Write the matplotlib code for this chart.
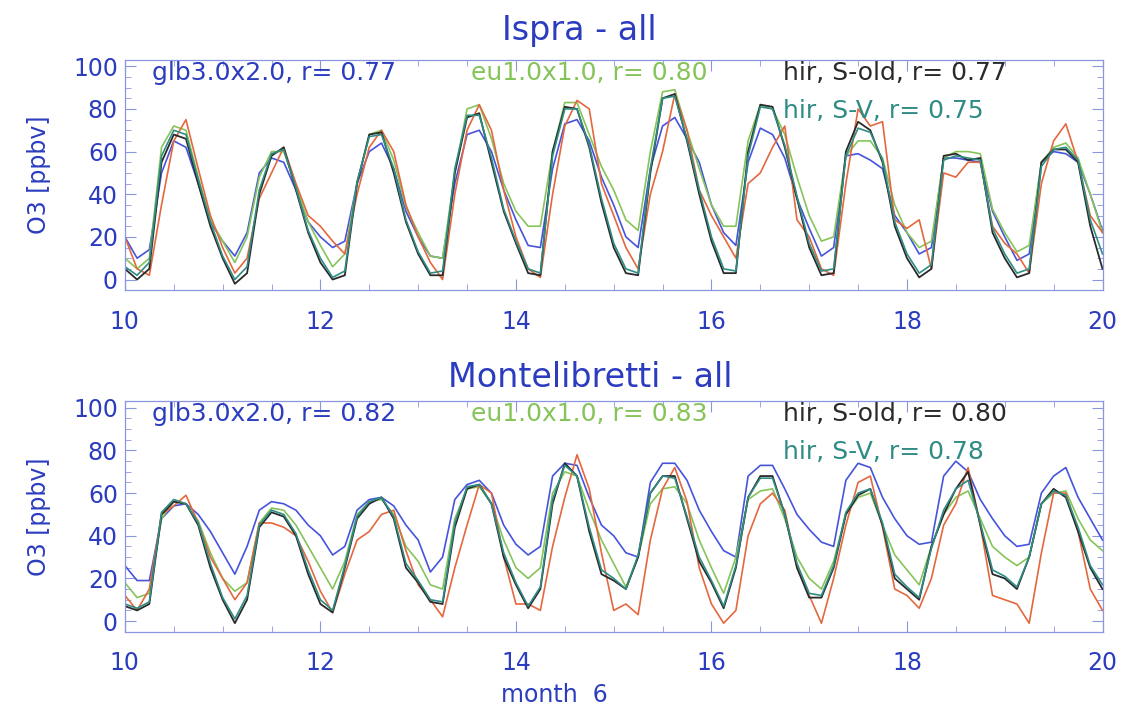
import numpy as np
import matplotlib
matplotlib.use("Agg")
import matplotlib.pyplot as plt
from matplotlib.ticker import MultipleLocator

plt.rcParams['font.family'] = ['DejaVu Sans']

# 3-hourly time axis, June 10 00h to June 20 00h
days = 10 + np.arange(81) / 8.0

# --- Ispra, O3 in ppbv ---
ispra_glb = [20, 10, 14, 50, 65, 62, 45, 27,  18, 11, 22, 50, 57, 55, 42, 27,
             20, 15, 18, 45, 60, 64, 52, 32,  20, 11, 10, 45, 68, 70, 60, 42,
             28, 16, 15, 52, 73, 75, 65, 48,  35, 20, 15, 52, 72, 76, 66, 55,
             35, 22, 16, 55, 71, 68, 57, 38,  24, 11, 15, 58, 59, 56, 52, 30,
             22, 12, 15, 57, 57, 56, 55, 32,  20, 9, 12, 55, 60, 59, 55, 40, 23]
ispra_eu = [10, 5, 10, 62, 72, 70, 48, 28,  18, 8, 20, 48, 60, 60, 44, 27,
            16, 6, 12, 45, 68, 70, 56, 34,  22, 11, 10, 50, 80, 82, 66, 45,
            32, 25, 25, 60, 83, 83, 68, 53,  42, 28, 23, 60, 88, 89, 70, 52,
            35, 25, 25, 65, 82, 80, 68, 48,  30, 18, 20, 58, 65, 65, 57, 35,
            22, 15, 18, 57, 60, 60, 59, 33,  22, 13, 16, 55, 62, 64, 57, 40, 22]
ispra_old = [5, 0, 5, 55, 68, 66, 45, 25,  10, -2, 3, 40, 58, 62, 42, 22,
             8, 0, 2, 45, 68, 69, 50, 27,  12, 2, 2, 50, 76, 78, 55, 32,
             17, 3, 2, 60, 81, 80, 62, 36,  15, 3, 2, 50, 85, 87, 65, 40,
             18, 3, 3, 60, 82, 81, 62, 38,  15, 2, 3, 60, 74, 70, 55, 25,
             10, 1, 5, 58, 59, 56, 57, 22,  10, 1, 3, 55, 61, 61, 55, 25, 5]
ispra_sv = [6, 2, 8, 58, 70, 68, 47, 27,  11, 0, 6, 42, 59, 61, 43, 23,
            10, 1, 4, 46, 67, 68, 52, 28,  13, 3, 4, 52, 77, 77, 57, 33,
            18, 5, 3, 58, 80, 80, 63, 38,  17, 5, 3, 52, 85, 86, 66, 42,
            20, 5, 4, 58, 81, 80, 63, 39,  17, 4, 5, 58, 71, 69, 56, 27,
            12, 3, 7, 56, 58, 57, 56, 24,  12, 3, 5, 53, 61, 62, 56, 28, 12]
ispra_obs = [20, 5, 2, 35, 65, 75, 52, 30,  15, 3, 10, 38, 50, 62, 45, 30,
             25, 18, 12, 40, 62, 70, 60, 35,  20, 8, 0, 40, 70, 82, 70, 42,
             20, 5, 1, 40, 72, 84, 80, 45,  30, 15, 5, 40, 60, 87, 70, 42,
             30, 20, 10, 45, 50, 62, 72, 28,  20, 5, 2, 45, 80, 72, 74, 28,
             24, 28, 5, 50, 48, 55, 55, 25,  17, 12, 3, 45, 65, 73, 55, 30, 22]

# --- Montelibretti, O3 in ppbv ---
monte_glb = [26, 19, 19, 48, 54, 55, 50, 42,  32, 22, 35, 52, 56, 55, 52, 45,
             40, 31, 35, 52, 57, 58, 54, 45,  38, 23, 30, 57, 64, 66, 60, 45,
             36, 31, 35, 68, 74, 73, 58, 45,  40, 32, 30, 65, 74, 74, 66, 52,
             42, 33, 30, 68, 73, 73, 62, 50,  43, 37, 35, 66, 74, 72, 58, 48,
             40, 36, 37, 68, 75, 70, 57, 48,  40, 35, 36, 60, 68, 72, 58, 48, 38]
monte_eu = [18, 11, 13, 48, 56, 55, 47, 32,  20, 14, 18, 46, 53, 52, 45, 35,
            25, 15, 28, 50, 56, 57, 50, 35,  28, 17, 15, 48, 62, 63, 55, 38,
            25, 20, 25, 60, 70, 68, 52, 38,  27, 16, 30, 55, 62, 63, 55, 38,
            25, 13, 30, 57, 61, 62, 48, 30,  20, 15, 28, 50, 58, 60, 45, 31,
            24, 17, 35, 50, 58, 61, 48, 35,  30, 26, 30, 55, 60, 61, 48, 38, 33]
monte_old = [7, 5, 8, 50, 56, 55, 45, 25,  10, -1, 10, 44, 51, 49, 40, 22,
             8, 4, 25, 48, 55, 58, 48, 25,  18, 9, 8, 44, 62, 64, 55, 30,
             17, 6, 15, 55, 74, 68, 42, 22,  19, 15, 30, 60, 68, 68, 48, 28,
             18, 6, 25, 58, 68, 68, 50, 25,  11, 11, 25, 50, 59, 62, 45, 20,
             15, 10, 35, 50, 62, 70, 45, 22,  20, 15, 30, 55, 62, 58, 42, 25, 15]
monte_sv = [8, 6, 9, 51, 57, 55, 46, 27,  11, 1, 12, 45, 52, 50, 41, 24,
            10, 5, 26, 49, 56, 58, 49, 27,  19, 10, 9, 46, 63, 64, 55, 32,
            18, 7, 16, 57, 73, 68, 44, 24,  20, 15, 31, 60, 68, 67, 49, 30,
            19, 7, 26, 58, 67, 67, 50, 27,  13, 12, 26, 51, 60, 62, 46, 22,
            16, 11, 34, 52, 62, 66, 46, 24,  21, 16, 30, 55, 61, 59, 44, 26, 17]
monte_obs = [12, 5, 15, 50, 54, 59, 46, 30,  20, 10, 18, 46, 46, 44, 40, 28,
             14, 4, 22, 38, 42, 50, 52, 33,  17, 10, 2, 25, 45, 64, 60, 30,
             8, 8, 5, 35, 58, 78, 62, 32,  5, 8, 3, 38, 62, 72, 56, 25,
             8, -1, 5, 40, 55, 60, 52, 25,  12, -1, 20, 45, 65, 68, 44, 15,
             12, 6, 20, 45, 55, 72, 45, 12,  10, 8, -1, 32, 60, 60, 42, 15, 5]

ispra_r = ["0.77", "0.80", "0.77", "0.75"]
monte_r = ["0.82", "0.83", "0.80", "0.78"]

c_blue = '#4654dc'
c_green = '#86c45a'
c_black = '#2a2a2a'
c_teal = '#2f8c84'
c_red = '#e4683e'
c_text = '#2b3cbf'
c_axis = '#8a96e0'

fig = plt.figure(figsize=(11.25, 7.13), dpi=100)
ax1 = fig.add_axes([0.111, 0.593, 0.869, 0.323])
ax2 = fig.add_axes([0.111, 0.114, 0.869, 0.323])


def draw_panel(ax, glb, eu, old, sv, obs, rvals):
    ax.plot(days, glb, color=c_blue, lw=1.2)
    ax.plot(days, eu, color=c_green, lw=1.2)
    ax.plot(days, obs, color=c_red, lw=1.2)
    ax.plot(days, old, color=c_black, lw=1.3)
    ax.plot(days, sv, color=c_teal, lw=1.2)
    ax.set_xlim(10, 20)
    ax.set_ylim(-5, 103)
    ax.xaxis.set_major_locator(MultipleLocator(2))
    ax.xaxis.set_minor_locator(MultipleLocator(0.5))
    ax.yaxis.set_major_locator(MultipleLocator(20))
    ax.yaxis.set_minor_locator(MultipleLocator(5))
    ax.tick_params(which='both', direction='in', top=True, right=True,
                   colors=c_axis, labelcolor=c_text, labelsize=17)
    ax.tick_params(which='major', length=8, width=0.8)
    ax.tick_params(which='minor', length=4, width=0.6)
    ax.tick_params(axis='x', pad=14)
    ax.tick_params(axis='y', pad=5)
    for sp in ax.spines.values():
        sp.set_color(c_axis)
        sp.set_linewidth(0.9)
    ax.set_ylabel("O3 [ppbv]", color=c_text, fontsize=17, labelpad=16)
    ax.text(0.028, 0.945, "glb3.0x2.0, r= " + rvals[0], color=c_text,
            fontsize=18, transform=ax.transAxes, va='center')
    ax.text(0.354, 0.945, "eu1.0x1.0, r= " + rvals[1], color=c_green,
            fontsize=18, transform=ax.transAxes, va='center')
    ax.text(0.673, 0.945, "hir, S-old, r= " + rvals[2], color=c_black,
            fontsize=18, transform=ax.transAxes, va='center')
    ax.text(0.673, 0.78, "hir, S-V, r= " + rvals[3], color=c_teal,
            fontsize=18, transform=ax.transAxes, va='center')


draw_panel(ax1, ispra_glb, ispra_eu, ispra_old, ispra_sv, ispra_obs, ispra_r)
draw_panel(ax2, monte_glb, monte_eu, monte_old, monte_sv, monte_obs, monte_r)

fig.text(0.515, 0.957, "Ispra - all", color=c_text, fontsize=24,
         ha='center', va='center')
fig.text(0.525, 0.47, "Montelibretti - all", color=c_text, fontsize=24,
         ha='center', va='center')
fig.text(0.493, 0.025, "month  6", color=c_text, fontsize=17,
         ha='center', va='center')

fig.savefig("out.png", dpi=100)
